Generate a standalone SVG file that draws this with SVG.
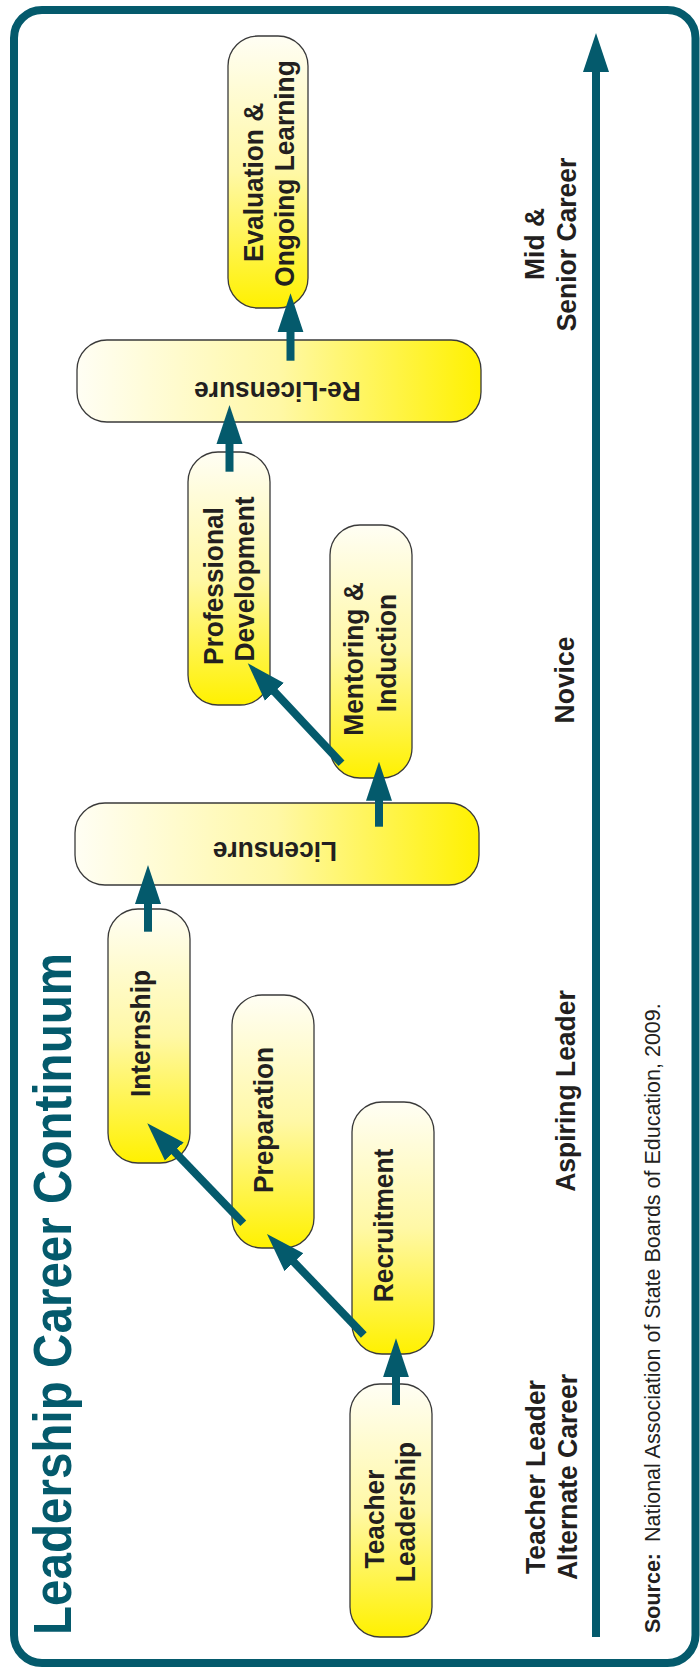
<svg xmlns="http://www.w3.org/2000/svg" width="700" height="1667" viewBox="0 0 700 1667">
<style>
.frame{fill:#ffffff;stroke:#045a6c;stroke-width:8}
.box{stroke:#3a3a3a;stroke-width:1.3}
.v{fill:url(#gv)}
.h{fill:url(#gh)}
.t{font-family:"Liberation Sans",Arial,Helvetica,sans-serif;font-weight:bold;font-size:26.3px;fill:#231f20;text-anchor:middle}
.lab{font-family:"Liberation Sans",Arial,Helvetica,sans-serif;font-weight:bold;font-size:26.5px;fill:#231f20;text-anchor:middle}
.title{font-family:"Liberation Sans",Arial,Helvetica,sans-serif;font-weight:bold;font-size:47.6px;fill:#045a6c}
.src{font-family:"Liberation Sans",Arial,Helvetica,sans-serif;font-size:21.5px;fill:#231f20}
.conn line{stroke:#045a6c;stroke-width:8;marker-end:url(#ah)}
</style>
<defs>
<linearGradient id="gv" x1="0" y1="0" x2="0" y2="1">
<stop offset="0" stop-color="#fffef4"/>
<stop offset="0.5" stop-color="#fff8a6"/>
<stop offset="1" stop-color="#fff100"/>
</linearGradient>
<linearGradient id="gh" x1="0" y1="0" x2="1" y2="0">
<stop offset="0" stop-color="#fffef4"/>
<stop offset="0.5" stop-color="#fff8a6"/>
<stop offset="1" stop-color="#fff100"/>
</linearGradient>
<marker id="ah" markerUnits="userSpaceOnUse" markerWidth="40" markerHeight="30" viewBox="-3 -14 40 28" refX="0" refY="0" orient="auto">
<path d="M-3,-13 L36,0 L-3,13 Z" fill="#045a6c"/>
</marker>
</defs>
<rect class="frame" x="14" y="10" width="681.5" height="1653" rx="28"/>
<text class="title" transform="translate(71,1635) rotate(-90) scale(1,1.12)">Leadership Career Continuum</text>
<g id="n_teacher">
<rect class="box v" x="350" y="1384" width="82" height="253" rx="30"/>
<text class="t" transform="translate(383.5,1519) rotate(-90) scale(1,1.06)">Teacher</text>
<text class="t" transform="translate(415,1512) rotate(-90) scale(1,1.06)">Leadership</text>
</g>
<g id="n_recruit">
<rect class="box v" x="352" y="1102" width="82" height="252" rx="30"/>
<text class="t" transform="translate(393,1225.5) rotate(-90) scale(1,1.06)">Recruitment</text>
</g>
<g id="n_prep">
<rect class="box v" x="232" y="995" width="82" height="253" rx="30"/>
<text class="t" transform="translate(272.5,1120) rotate(-90) scale(1,1.06)">Preparation</text>
</g>
<g id="n_intern">
<rect class="box v" x="108" y="909" width="82" height="254" rx="30"/>
<text class="t" transform="translate(150,1033.5) rotate(-90) scale(1,1.06)">Internship</text>
</g>
<g id="n_lic">
<rect class="box h" x="75" y="803" width="404" height="82" rx="30"/>
<text class="t" transform="translate(275,842) rotate(180) scale(1,1.06)">Licensure</text>
</g>
<g id="n_mentor">
<rect class="box v" x="330" y="525" width="82" height="253" rx="30"/>
<text class="t" transform="translate(362.5,659) rotate(-90) scale(1,1.06)">Mentoring &amp;</text>
<text class="t" transform="translate(396,653) rotate(-90) scale(1,1.06)">Induction</text>
</g>
<g id="n_profdev">
<rect class="box v" x="188" y="452" width="82" height="253" rx="30"/>
<text class="t" transform="translate(223,586) rotate(-90) scale(1,1.06)">Professional</text>
<text class="t" transform="translate(254,579) rotate(-90) scale(1,1.06)">Development</text>
</g>
<g id="n_relic">
<rect class="box h" x="77" y="340" width="404" height="82" rx="30"/>
<text class="t" transform="translate(277.5,382) rotate(180) scale(1,1.06)">Re-Licensure</text>
</g>
<g id="n_eval">
<rect class="box v" x="228" y="36" width="80" height="272" rx="30"/>
<text class="t" transform="translate(263,182.5) rotate(-90) scale(1,1.06)">Evaluation &amp;</text>
<text class="t" transform="translate(294,173.5) rotate(-90) scale(1,1.06)">Ongoing Learning</text>
</g>
<g id="connectors" class="conn">
<line x1="596" y1="1637" x2="596" y2="69"/>
<line x1="396" y1="1405" x2="396" y2="1374.3"/>
<line x1="363.8" y1="1335" x2="291.9" y2="1260"/>
<line x1="243.3" y1="1223.3" x2="172.2" y2="1149.3"/>
<line x1="148" y1="931.7" x2="148" y2="901"/>
<line x1="379" y1="826.7" x2="379" y2="797.7"/>
<line x1="341.5" y1="763.3" x2="272.4" y2="689.6"/>
<line x1="229.5" y1="471.7" x2="229.5" y2="441"/>
<line x1="290.5" y1="360.7" x2="290.5" y2="329.3"/>
</g>
<g id="stages">
<text class="lab" transform="translate(543.5,244) rotate(-90) scale(1,1.06)">Mid &amp;</text>
<text class="lab" transform="translate(576,244.5) rotate(-90) scale(1,1.06)">Senior Career</text>
<text class="lab" transform="translate(574,680) rotate(-90) scale(1,1.06)">Novice</text>
<text class="lab" transform="translate(575,1091) rotate(-90) scale(1,1.06)">Aspiring Leader</text>
<text class="lab" transform="translate(544.5,1477) rotate(-90) scale(1,1.06)">Teacher Leader</text>
<text class="lab" transform="translate(576.5,1477) rotate(-90) scale(1,1.06)">Alternate Career</text>
</g>
<text class="src" transform="translate(660,1633) rotate(-90) scale(1,1.05)"><tspan font-weight="bold">Source:</tspan><tspan dx="11">National Association of State Boards of Education, 2009.</tspan></text>
</svg>
